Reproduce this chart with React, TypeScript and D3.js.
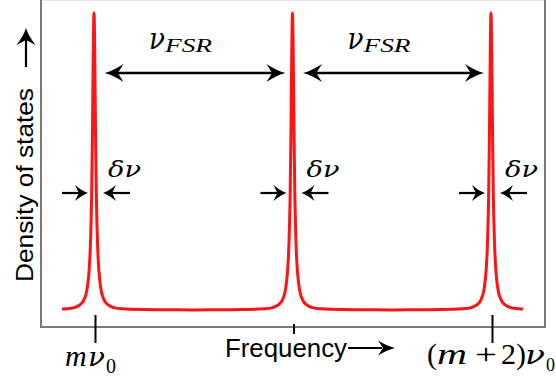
import React from "react";
import * as d3 from "d3";

// Resonance modes shown, as offsets from the mode number m (units of ν0)
const MODES = [0, 1, 2];
// One resonance line, read as density vs. distance from its centre (units of ν0)
const PROFILE_OFFSET = [0, 0.004, 0.008, 0.012, 0.018, 0.025, 0.035, 0.05, 0.07, 0.1, 0.14, 0.25, 0.38];
const PROFILE_DENSITY = [1.0, 0.85, 0.58, 0.38, 0.22, 0.13, 0.07, 0.035, 0.018, 0.008, 0.004, 0.0015, 0.0008];
// Ends of the plotted spectrum and the background density there
const SPECTRUM_START = -0.161;
const SPECTRUM_END = 2.161;
const EDGE_DENSITY = 0.003;
const MIDPOINT_DENSITY = 0.0;

const X_LABEL = "Frequency";
const Y_LABEL = "Density of states";

const W = 556;
const H = 385;
const FRAME = { left: 41, right: 545, top: 0, bottom: 327 };

const MATH = "'Liberation Serif', 'Times New Roman', serif";
const GREEK = "'DejaVu Serif', serif";
const SANS = "'Liberation Sans', Arial, sans-serif";

// Filled arrowhead with a notched back, tip at (tx, ty), pointing along (ux, uy)
function head(tx: number, ty: number, ux: number, uy: number, L: number, Wd: number) {
  const px = -uy, py = ux;
  const bx = tx - ux * L, by = ty - uy * L;
  const nx = tx - ux * L * 0.7, ny = ty - uy * L * 0.7;
  const b1x = bx + (px * Wd) / 2, b1y = by + (py * Wd) / 2;
  const b2x = bx - (px * Wd) / 2, b2y = by - (py * Wd) / 2;
  const c1x = tx - ux * L * 0.45 + px * Wd * 0.12, c1y = ty - uy * L * 0.45 + py * Wd * 0.12;
  const c2x = tx - ux * L * 0.45 - px * Wd * 0.12, c2y = ty - uy * L * 0.45 - py * Wd * 0.12;
  return `M${tx},${ty} Q${c1x},${c1y} ${b1x},${b1y} L${nx},${ny} L${b2x},${b2y} Q${c2x},${c2y} ${tx},${ty} Z`;
}

function buildSpectrum() {
  const pts: [number, number][] = [];
  MODES.forEach((c) => {
    PROFILE_OFFSET.forEach((o, i) => {
      pts.push([c - o, PROFILE_DENSITY[i]]);
      if (o > 0) pts.push([c + o, PROFILE_DENSITY[i]]);
    });
  });
  for (let i = 0; i < MODES.length - 1; i++) pts.push([(MODES[i] + MODES[i + 1]) / 2, MIDPOINT_DENSITY]);
  pts.push([SPECTRUM_START, EDGE_DENSITY], [SPECTRUM_END, EDGE_DENSITY]);
  return pts
    .filter((p) => p[0] >= SPECTRUM_START && p[0] <= SPECTRUM_END)
    .sort((a, b) => a[0] - b[0]);
}

export default function App() {
  const x = d3.scaleLinear().domain([0, 2]).range([94, 491]);
  const y = d3.scaleLinear().domain([0, 1]).range([310, 13]);
  const line = d3
    .line<[number, number]>()
    .x((d) => x(d[0]))
    .y((d) => y(d[1]))
    .curve(d3.curveMonotoneX);
  const spectrum = buildSpectrum();

  const fsrY = 73;
  const dnuY = 193;

  return (
    <svg
      width={W}
      height={H}
      viewBox={`0 0 ${W} ${H}`}
      style={{ position: "absolute", left: 0, top: 0, background: "#fff" }}
    >
      {/* plot frame */}
      <line x1={FRAME.left} y1={FRAME.top + 0.5} x2={FRAME.right} y2={FRAME.top + 0.5} stroke="#e4e4e4" strokeWidth={1} />
      <path
        d={`M${FRAME.left},${FRAME.top} V${FRAME.bottom} H${FRAME.right} V${FRAME.top}`}
        fill="none"
        stroke="#7a7a7a"
        strokeWidth={2}
      />

      {/* spectrum */}
      <path d={line(spectrum) || ""} fill="none" stroke="#ff1414" strokeWidth={3} strokeLinejoin="round" />

      {/* tick marks at the resonances */}
      {MODES.map((c, i) =>
        i === 1 ? (
          <line key={c} x1={x(c) + 1.5} x2={x(c) + 1.5} y1={324} y2={334} stroke="#000" strokeWidth={2} />
        ) : (
          <line key={c} x1={x(c) + 1.5} x2={x(c) + 1.5} y1={315} y2={343} stroke="#000" strokeWidth={2} />
        )
      )}

      {/* free spectral range arrows */}
      {MODES.slice(0, -1).map((c, i) => {
        const a = x(c) + 10.5;
        const b = x(MODES[i + 1]) - 7;
        return (
          <g key={`fsr${c}`}>
            <line x1={a + 12} x2={b - 12} y1={fsrY} y2={fsrY} stroke="#000" strokeWidth={2.6} />
            <path d={head(a, fsrY, -1, 0, 19, 18)} fill="#000" />
            <path d={head(b, fsrY, 1, 0, 19, 18)} fill="#000" />
            <text
              x={x(c) + 55}
              y={49}
              fontFamily={GREEK}
              fontStyle="italic"
              fontSize={30}
              fill="#000"
              textLength={16}
              lengthAdjust="spacingAndGlyphs"
            >
              ν
            </text>
            <text
              x={x(c) + 71}
              y={52}
              fontFamily={MATH}
              fontStyle="italic"
              fontSize={19}
              fill="#000"
              textLength={47}
              lengthAdjust="spacingAndGlyphs"
            >
              FSR
            </text>
          </g>
        );
      })}

      {/* linewidth arrows */}
      {MODES.map((c) => {
        const lt = x(c) - 6;
        const rt = x(c) + 9;
        return (
          <g key={`dnu${c}`}>
            <line x1={x(c) - 32} x2={lt - 9} y1={dnuY} y2={dnuY} stroke="#000" strokeWidth={2.2} />
            <path d={head(lt, dnuY, 1, 0, 13, 16)} fill="#000" />
            <line x1={rt + 9} x2={x(c) + 36} y1={dnuY} y2={dnuY} stroke="#000" strokeWidth={2.2} />
            <path d={head(rt, dnuY, -1, 0, 13, 16)} fill="#000" />
            <text
              x={x(c) + 14}
              y={177}
              fontFamily={GREEK}
              fontStyle="italic"
              fontSize={23}
              fill="#000"
              textLength={33}
              lengthAdjust="spacingAndGlyphs"
            >
              δν
            </text>
          </g>
        );
      })}

      {/* mode labels */}
      <g fontFamily={MATH} fill="#000">
        <text x={65} y={366} fontSize={30} fontStyle="italic">m</text>
        <text x={88} y={366} fontFamily={GREEK} fontSize={26} fontStyle="italic" textLength={17} lengthAdjust="spacingAndGlyphs">ν</text>
        <text x={106} y={373} fontSize={20}>0</text>

        <text x={427} y={364} fontSize={30}>(</text>
        <text x={437} y={364} fontSize={30} fontStyle="italic" textLength={30} lengthAdjust="spacingAndGlyphs">m</text>
        <text x={475} y={364} fontSize={30} textLength={22} lengthAdjust="spacingAndGlyphs">+</text>
        <text x={501} y={364} fontSize={30}>2</text>
        <text x={516} y={364} fontSize={30}>)</text>
        <text x={525} y={364} fontFamily={GREEK} fontSize={26} fontStyle="italic" textLength={20} lengthAdjust="spacingAndGlyphs">ν</text>
        <text x={546} y={371} fontSize={18}>0</text>
      </g>

      {/* axis titles */}
      <text x={225} y={357} fontFamily={SANS} fontSize={25} fill="#000" textLength={122} lengthAdjust="spacingAndGlyphs">
        {X_LABEL}
      </text>
      <line x1={348} x2={382} y1={348} y2={348} stroke="#000" strokeWidth={2.2} />
      <path d={head(395, 348, 1, 0, 17, 15)} fill="#000" />

      <text
        transform="translate(33,282) rotate(-90)"
        fontFamily={SANS}
        fontSize={24}
        fill="#000"
        textLength={194}
        lengthAdjust="spacingAndGlyphs"
      >
        {Y_LABEL}
      </text>
      <line x1={26} x2={26} y1={67} y2={40} stroke="#000" strokeWidth={2.2} />
      <path d={head(26, 28, 0, -1, 17, 19)} fill="#000" />
    </svg>
  );
}
